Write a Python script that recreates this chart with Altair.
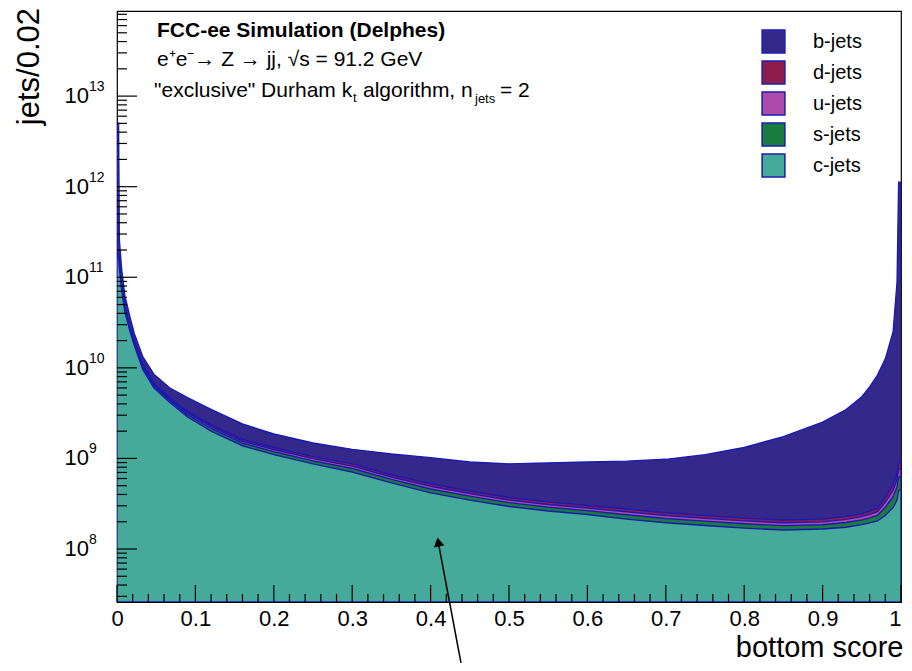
import altair as alt
import pandas as pd

# ---- data (bottom score, jets per bin) ----
XS = [0.0, 0.002, 0.003, 0.006, 0.01, 0.016, 0.022, 0.033, 0.047, 0.067, 0.09, 0.12,
      0.16, 0.2, 0.25, 0.3, 0.35, 0.4, 0.45, 0.5, 0.55, 0.6, 0.65, 0.7, 0.75, 0.8,
      0.85, 0.9, 0.93, 0.95, 0.96, 0.97, 0.98, 0.99, 0.995, 0.997, 1.0]

C_JETS = [1.66e11, 1.66e11, 1.26e11, 7.08e10, 4.17e10, 2.63e10, 1.78e10, 9.55e9, 6.03e9,
          4.17e9, 2.88e9, 2.00e9, 1.38e9, 1.10e9, 8.71e8, 7.08e8, 5.37e8, 4.17e8, 3.47e8,
          2.95e8, 2.63e8, 2.40e8, 2.14e8, 1.95e8, 1.82e8, 1.70e8, 1.62e8, 1.66e8, 1.74e8,
          1.86e8, 1.94e8, 2.04e8, 2.34e8, 2.88e8, 3.47e8, 4.47e8, 4.47e8]
S_JETS = [8.1e9, 8.1e9, 6.2e9, 3.4e9, 2.0e9, 1.3e9, 8.8e8, 4.7e8, 3.0e8, 2.0e8, 1.7e8,
          1.4e8, 9.6e7, 8.8e7, 7.0e7, 6.5e7, 5.0e7, 4.3e7, 3.6e7, 3.0e7, 2.7e7, 2.5e7,
          2.5e7, 2.25e7, 2.1e7, 2.0e7, 1.9e7, 1.9e7, 2.2e7, 2.4e7, 2.7e7, 3.1e7, 5.5e7,
          9.0e7, 1.38e8, 1.78e8, 1.78e8]
U_JETS = [6.1e9, 6.1e9, 4.6e9, 2.6e9, 1.55e9, 9.5e8, 6.6e8, 3.5e8, 2.2e8, 1.55e8, 1.3e8,
          1.05e8, 7.2e7, 6.6e7, 5.3e7, 4.9e7, 3.7e7, 3.25e7, 2.7e7, 2.3e7, 2.05e7, 1.85e7,
          1.85e7, 1.7e7, 1.55e7, 1.45e7, 1.4e7, 1.45e7, 1.65e7, 1.75e7, 2.05e7, 2.35e7,
          4.1e7, 6.7e7, 1.04e8, 1.34e8, 1.34e8]
D_JETS = [6.1e9, 6.1e9, 4.6e9, 2.6e9, 1.55e9, 9.5e8, 6.6e8, 3.5e8, 2.2e8, 1.55e8, 1.3e8,
          1.05e8, 7.2e7, 6.6e7, 5.3e7, 4.9e7, 3.7e7, 3.25e7, 2.7e7, 2.3e7, 2.05e7, 1.85e7,
          1.85e7, 1.7e7, 1.55e7, 1.45e7, 1.4e7, 1.45e7, 1.65e7, 1.75e7, 2.05e7, 2.35e7,
          4.1e7, 6.7e7, 1.04e8, 1.34e8, 1.34e8]
B_JETS = [4.82e12, 4.82e12, 1.16e11, 4.06e10, 1.63e10, 8.5e9, 4.0e9, 2.48e9, 1.74e9,
          1.35e9, 1.37e9, 1.12e9, 7.8e8, 5.4e8, 4.33e8, 3.89e8, 4.59e8, 4.95e8, 4.75e8,
          5.00e8, 5.60e8, 6.10e8, 6.57e8, 7.26e8, 8.66e8, 1.10e9, 1.53e9, 2.30e9, 3.24e9,
          4.55e9, 5.91e9, 8.04e9, 1.22e10, 2.46e10, 8.84e10, 1.12e12, 1.12e12]

FLAVOURS = ["b-jets", "d-jets", "u-jets", "s-jets", "c-jets"]
COLOURS = ["#34298B", "#8C1D4C", "#AE4AAA", "#1C7B3E", "#46AA9B"]
EDGE = "#1A1AB0"

X_TICKS = [0.0, 0.1, 0.2, 0.3, 0.4, 0.5, 0.6, 0.7, 0.8, 0.9, 1.0]
Y_EXPS = [8, 9, 10, 11, 12, 13]

YMIN, YMAX = 2.6e7, 8.7e13
FONT = "Liberation Sans"
W, H = 784, 591

# ---- stacking (ROOT THStack: c, s, u, d, b from bottom) ----
df = pd.DataFrame({"x": XS, "c": C_JETS, "s": S_JETS, "u": U_JETS, "d": D_JETS, "b": B_JETS})
df["top_c-jets"] = df["c"]
df["top_s-jets"] = df["top_c-jets"] + df["s"]
df["top_u-jets"] = df["top_s-jets"] + df["u"]
df["top_d-jets"] = df["top_u-jets"] + df["d"]
df["top_b-jets"] = df["top_d-jets"] + df["b"]

xscale = alt.Scale(domain=[0, 1], nice=False, zero=False)
yscale = alt.Scale(type="log", domain=[YMIN, YMAX], nice=False)
cscale = alt.Scale(domain=FLAVOURS, range=COLOURS)

xaxis = alt.Axis(values=X_TICKS, format=".1~f", ticks=False, domain=False, grid=False,
                 labelFontSize=22, labelFont=FONT, labelColor="black", labelPadding=6,
                 labelFlush=False, labelOverlap=False,
                 labelAlign=alt.ExprRef(expr="datum.value >= 1 ? 'right' : 'center'"),
                 title="bottom score", titleFont=FONT, titleFontSize=29,
                 titleFontWeight="normal", titleColor="black", titleAnchor="end",
                 titleAlign="right", titleBaseline="alphabetic", titleX=W + 2, titleY=54)

legend = alt.Legend(title=None, orient="none", legendX=644, legendY=18, padding=0,
                    symbolType="square", symbolSize=520, symbolStrokeColor=EDGE,
                    symbolStrokeWidth=1.5, symbolOpacity=1, labelFont=FONT,
                    labelFontSize=20, labelColor="black", labelOffset=27, rowPadding=2)

layers = []
for i, f in enumerate(FLAVOURS):
    d = pd.DataFrame({"x": df["x"], "top": df["top_" + f], "flavour": f})
    layers.append(
        alt.Chart(d).mark_area(clip=True, stroke=EDGE, strokeWidth=1.4, interpolate="linear",
                               opacity=1)
        .encode(
            x=alt.X("x:Q", scale=xscale, axis=xaxis),
            y=alt.Y("top:Q", scale=yscale, axis=None),
            y2=alt.datum(YMIN),
            color=alt.Color("flavour:N", scale=cscale, legend=legend),
        )
    )

# ---- ROOT-style inner ticks ----
y_major = pd.DataFrame({"v": [10.0 ** e for e in Y_EXPS]})
y_minor = pd.DataFrame({"v": [k * 10.0 ** e for e in range(7, 14) for k in range(2, 10)
                              if YMIN <= k * 10.0 ** e <= YMAX]})
x_major = pd.DataFrame({"v": X_TICKS})
x_minor = pd.DataFrame({"v": [round(0.02 * i, 2) for i in range(51) if i % 5 != 0]})

tick_y_major = alt.Chart(y_major).mark_rule(color="black", strokeWidth=1.2).encode(
    y=alt.Y("v:Q", scale=yscale, axis=None), x=alt.value(0), x2=alt.value(20))
tick_y_minor = alt.Chart(y_minor).mark_rule(color="black", strokeWidth=1.2).encode(
    y=alt.Y("v:Q", scale=yscale, axis=None), x=alt.value(0), x2=alt.value(10))
tick_x_major = alt.Chart(x_major).mark_rule(color="black", strokeWidth=1.2).encode(
    x=alt.X("v:Q", scale=xscale, axis=xaxis), y=alt.value(H), y2=alt.value(H - 17))
tick_x_minor = alt.Chart(x_minor).mark_rule(color="black", strokeWidth=1.2).encode(
    x=alt.X("v:Q", scale=xscale, axis=xaxis), y=alt.value(H), y2=alt.value(H - 8))

# ---- y tick labels 10^n ----
ylab = pd.DataFrame({"v": [10.0 ** e for e in Y_EXPS], "exp": [str(e) for e in Y_EXPS]})
ylab_base = alt.Chart(ylab).mark_text(font=FONT, fontSize=22, align="right",
                                      baseline="middle", color="black").encode(
    y=alt.Y("v:Q", scale=yscale, axis=None), x=alt.value(-28), text=alt.value("10"))
ylab_exp = alt.Chart(ylab).mark_text(font=FONT, fontSize=14, align="left",
                                     baseline="middle", color="black", dy=-9).encode(
    y=alt.Y("v:Q", scale=yscale, axis=None), x=alt.value(-28), text="exp:N")

# ---- texts ----
def txt(s, x, y, size=21, bold=False, align="left", angle=0, baseline="alphabetic"):
    return alt.Chart(pd.DataFrame({"t": [s]})).mark_text(
        font=FONT, fontSize=size, fontWeight="bold" if bold else "normal", align=align,
        baseline=baseline, angle=angle, color="black").encode(
        x=alt.value(x), y=alt.value(y), text="t:N")

texts = [
    txt("jets/0.02", -87, -3, size=31, align="right", angle=270, baseline="middle"),
    txt("FCC-ee Simulation (Delphes)", 40, 26, size=21, bold=True),
    txt("e\u207ae\u207b\u2192 Z \u2192 jj, \u221as = 91.2 GeV", 40, 55),
    txt("\"exclusive\" Durham k", 37, 86),
    txt("t", 236, 91, size=13),
    txt("algorithm, n", 246, 86),
    txt("jets", 358, 92, size=13),
    txt("= 2", 383, 86),
]

# ---- arrow ----
arrow_line = alt.Chart(pd.DataFrame({"a": [0]})).mark_rule(color="black", strokeWidth=1.5).encode(
    x=alt.value(344), y=alt.value(652), x2=alt.value(321), y2=alt.value(530))
arrow_head = alt.Chart(pd.DataFrame({"a": [0]})).mark_point(
    shape="triangle-up", filled=True, color="black", size=110, angle=349.6, opacity=1).encode(
    x=alt.value(321.3), y=alt.value(531))

chart = alt.layer(*layers, tick_y_major, tick_y_minor, tick_x_major, tick_x_minor,
                  ylab_base, ylab_exp, *texts, arrow_line, arrow_head).properties(
    width=W, height=H,
    autosize=alt.AutoSizeParams(type="none"),
    padding={"left": 109, "top": 3, "right": 3, "bottom": 61},
    background="white",
).configure_view(stroke="black", strokeWidth=1.2)

chart.save("out.html", embed_options={"renderer": "svg", "actions": False})
